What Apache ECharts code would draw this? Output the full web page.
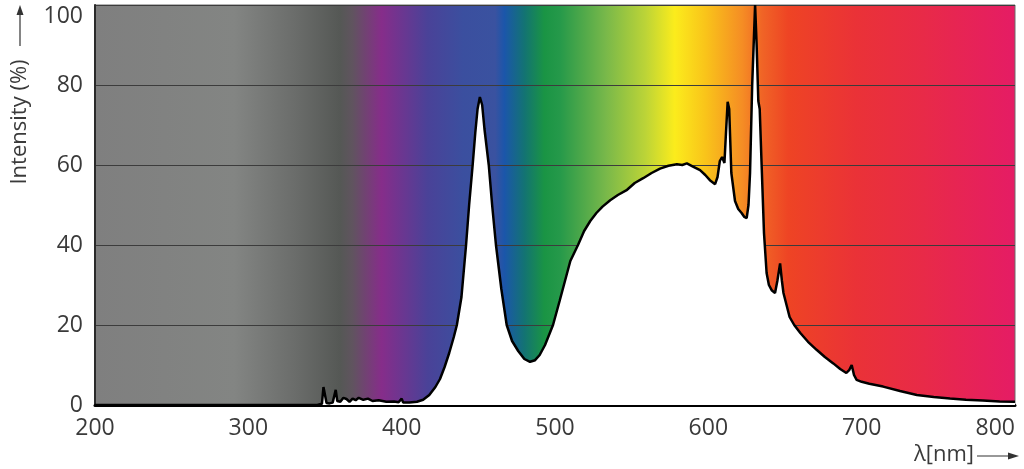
<!DOCTYPE html>
<html lang="en">
<head>
    <meta charset="UTF-8">
    <title>spectrum</title>
    <script src="https://cdn.jsdelivr.net/npm/echarts/dist/echarts.min.js"></script>
    <style>
        html, body { margin: 0; padding: 0; background: #fff; }
    </style>
</head>
<body>
<div id="main" style="width: 1024px;height:469px;"></div>
<script type="text/javascript">
    // wavelength (nm)
    var wavelength = [200, 345, 348, 349, 350, 351, 353, 355, 357, 358, 360, 362, 364, 366, 368, 370, 372, 375, 378, 381,
        385, 390, 395, 398, 400, 401, 405, 410, 414, 418, 422, 425, 428, 431, 434, 436, 439, 442, 444, 446.3,
        448, 449.5, 451, 452.5, 454, 456.8, 459, 461.5, 465, 468.5, 472, 476, 480, 483.7, 487, 490, 493.5, 498.7, 503, 506.5,
        510, 515, 519, 523, 527, 531, 536, 541, 547, 552, 557.5, 563, 568.5, 574, 579.5, 583, 586, 590, 594.6, 598,
        601, 604.4, 606, 607.5, 609, 610.5, 611.5, 612.6, 613.6, 615, 617.4, 619.5, 621.7, 623.5, 625, 626.2, 627.2, 628.6, 630.5, 631.5,
        632.6, 633.5, 634.8, 636.3, 638, 639.5, 641.3, 643.5, 645, 646.8, 648, 649, 651, 653, 656, 660, 665, 670.6, 676, 681.5,
        686, 690, 692, 693.5, 695, 696.7, 700, 705, 714, 725, 736, 747, 757.6, 768, 779, 790, 800];
    // relative intensity (%)
    var intensity = [0, 0, 0.3, 4.5, 4.2, 0.5, 0.4, 0.6, 3.8, 1, 0.8, 1.8, 1.5, 0.8, 1.6, 1.2, 1.8, 1.3, 1.6, 1.0,
        1.2, 0.8, 0.9, 0.7, 1.6, 0.6, 0.6, 0.8, 1.3, 2.5, 4.5, 6.5, 9.5, 13, 17, 20, 27, 40, 50, 60,
        68, 74, 77, 75, 69, 60, 50, 40, 29, 20, 16, 13.5, 11.5, 10.8, 11.2, 12.5, 15, 20, 26, 31,
        36, 40, 43.5, 46, 48, 49.6, 51.2, 52.5, 53.8, 55.5, 56.7, 58, 59.1, 59.8, 60.2, 60, 60.4, 59.6, 58.7, 57.5,
        56.2, 55.2, 57, 61, 62, 60.5, 68, 75.8, 74, 58, 51, 49, 48, 47, 46.7, 50, 58, 80, 100, 90,
        76, 74, 59.5, 43, 33, 30, 28.7, 28, 31, 35.4, 31, 28, 25, 22, 20, 18, 15.8, 13.8, 12, 10.4,
        9, 8, 8.8, 10, 7.5, 6.3, 5.8, 5.3, 4.6, 3.5, 2.5, 2, 1.6, 1.3, 1.1, 0.9, 0.8];

    var xTicks = [200, 300, 400, 500, 600, 700, 800];
    var yTicks = [0, 20, 40, 60, 80, 100];

    // spectrum colours behind the curve: [nm, colour]
    var spectrumStops = [
        [200, '#7f7f7f'], [291, '#838583'], [330, '#6b6d6b'], [360, '#555855'], [368, '#60545f'],
        [387, '#862d8a'], [417, '#4a4298'], [440, '#3b4f9f'], [461, '#3a52a0'], [467, '#1b56aa'],
        [480, '#137373'], [493, '#1a9444'], [503, '#25994a'], [533, '#78b84a'], [559, '#bcd437'],
        [578, '#fbec1c'], [598, '#f9c41a'], [622, '#f58d24'], [635, '#f06426'], [652, '#ee4424'],
        [696, '#ea3237'], [740, '#e82a48'], [800, '#e51c65']
    ];

    var chart = echarts.init(document.getElementById('main'));

    var xMin = xTicks[0], xMax = xTicks[xTicks.length - 1];
    var stops = spectrumStops.map(function (s) {
        return { offset: (s[0] - xMin) / (xMax - xMin), color: s[1] };
    });
    var points = wavelength.map(function (w, i) { return [w, intensity[i]]; });

    var font = '"Open Sans", "Noto Sans", sans-serif';
    var textColor = '#3a3a3a';

    chart.setOption({
        animation: false,
        grid: {
            left: 95, right: 9, top: 5, bottom: 64,
            containLabel: false,
            outerBoundsMode: 'none',
            show: true,
            backgroundColor: new echarts.graphic.LinearGradient(0, 0, 1, 0, stops),
            borderColor: '#6a6a6a',
            borderWidth: 1
        },
        xAxis: {
            type: 'value',
            min: xMin, max: xMax, interval: 100,
            axisLine: { show: true, onZero: false, lineStyle: { color: '#000', width: 3 } },
            axisTick: { show: false },
            splitLine: { show: false },
            axisLabel: {
                margin: 12, fontSize: 23, color: textColor, fontFamily: font,
                alignMaxLabel: 'right'
            }
        },
        yAxis: {
            type: 'value',
            min: yTicks[0], max: yTicks[yTicks.length - 1], interval: 20,
            axisLine: { show: true, lineStyle: { color: '#2a2a2a', width: 2 } },
            axisTick: { show: false },
            splitLine: { show: true, lineStyle: { color: '#3c3c3c', width: 1 } },
            axisLabel: {
                margin: 12, fontSize: 23, color: textColor, fontFamily: font,
                verticalAlignMaxLabel: 'top'
            }
        },
        series: [{
            type: 'line',
            data: points,
            symbol: 'none',
            smooth: false,
            lineStyle: { color: '#000', width: 2.5 },
            areaStyle: { color: '#fff', opacity: 1 },
            z: 3
        }],
        graphic: [
            {
                type: 'text', x: 20, y: 122, rotation: Math.PI / 2,
                style: {
                    text: 'Intensity (%)', fill: textColor, font: '22px ' + font,
                    align: 'center', verticalAlign: 'middle'
                }
            },
            { type: 'line', shape: { x1: 20, y1: 46, x2: 20, y2: 12 }, style: { stroke: '#333', lineWidth: 1.2 } },
            { type: 'polygon', shape: { points: [[20, 5], [16.5, 15], [23.5, 15]] }, style: { fill: '#333' } },
            {
                type: 'text', x: 974, y: 455,
                style: {
                    text: 'λ[nm]', fill: textColor, font: '22px ' + font,
                    align: 'right', verticalAlign: 'middle'
                }
            },
            { type: 'line', shape: { x1: 977, y1: 456, x2: 1010, y2: 456 }, style: { stroke: '#333', lineWidth: 1.2 } },
            { type: 'polygon', shape: { points: [[1019, 456], [1008, 452.5], [1008, 459.5]] }, style: { fill: '#333' } }
        ]
    });
</script>
</body>
</html>
